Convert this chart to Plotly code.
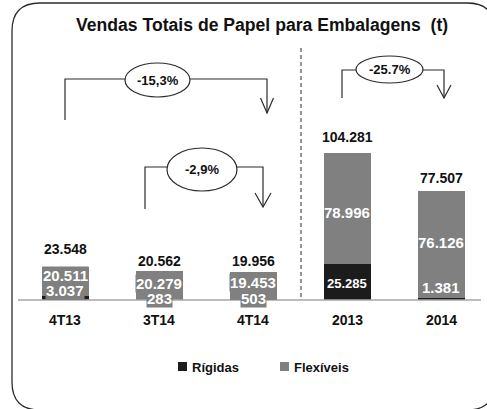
import plotly.graph_objects as go

# ---------------- data ----------------
categories = ['4T13', '3T14', '4T14', '2013', '2014']
rigidas = [3037, 283, 503, 25285, 1381]
flexiveis = [20511, 20279, 19453, 78996, 76126]
totais = [23548, 20562, 19956, 104281, 77507]
legend_names = ['Rígidas', 'Flexíveis']
variacoes = ['-15,3%', '-2,9%', '-25.7%']
title_text = 'Vendas Totais de Papel para Embalagens  (t)'

# ---------------- layout constants ----------------
W, H = 487, 409
BASE_PX = 300          # pixel row of the baseline
TOP_BAR_PX = 147       # pixel height of the tallest bar
FIRST_X, STEP = 65, 94 # pixel centre of first category, spacing

FONT = 'Liberation Sans, Arial, sans-serif'
C_RIG = '#1c1c1c'
C_FLEX = '#808080'
C_LINE = '#2b2b2b'

ppu = TOP_BAR_PX / max(totais)
y_range = [-(H - BASE_PX) / ppu, BASE_PX / ppu]
x_range = [-FIRST_X / STEP, (W - FIRST_X) / STEP]


def px(x):
    return x / W


def py(y):
    return 1 - y / H


fmt = lambda v: f'{v:,}'.replace(',', '.')

fig = go.Figure()
fig.add_trace(go.Bar(x=categories, y=rigidas, name=legend_names[0],
                     marker=dict(color=C_RIG, line=dict(width=0)), width=0.5))
fig.add_trace(go.Bar(x=categories, y=flexiveis, name=legend_names[1],
                     marker=dict(color=C_FLEX, line=dict(width=0)), width=0.5))

shapes = []
ann = []

# baseline
shapes.append(dict(type='line', xref='paper', yref='y', x0=px(18), x1=px(481),
                   y0=0, y1=0, line=dict(color='#a6a6a6', width=1.5)))
# dashed separator
shapes.append(dict(type='line', xref='paper', yref='paper', x0=px(301), x1=px(301),
                   y0=py(48), y1=py(300), line=dict(color=C_LINE, width=1, dash='4px,3px')))
# frame with rounded corners
x0f, x1f, y0f, y1f, r = 12, 495, 3, 410, 28


def P(x, y):
    return f'{px(x)},{py(y)}'


frame = (f'M {P(x0f, y0f + r)} Q {P(x0f, y0f)} {P(x0f + r, y0f)} '
         f'L {P(x1f - r, y0f)} Q {P(x1f, y0f)} {P(x1f, y0f + r)} '
         f'L {P(x1f, y1f - r)} Q {P(x1f, y1f)} {P(x1f - r, y1f)} '
         f'L {P(x0f + r, y1f)} Q {P(x0f, y1f)} {P(x0f, y1f - r)} Z')
shapes.append(dict(type='path', xref='paper', yref='paper', path=frame,
                   line=dict(color=C_LINE, width=1.3)))

# brackets: (left x, left bottom, line y, ellipse x0,x1,y0,y1, right x, tip y, arm dy, arm dx)
brackets = [
    (65, 120, 79, 125, 190, 63, 97, 267, 113, 15, 6.5),
    (145, 209, 167, 167, 237, 148, 191, 263, 207, 14, 8),
    (342, 98, 70, 356, 423, 56, 83, 444, 98, 13, 7),
]
for i, (lx, lb, ly, ex0, ex1, ey0, ey1, rx, tip, ady, adx) in enumerate(brackets):
    line = dict(color=C_LINE, width=1.2)
    shapes.append(dict(type='path', xref='paper', yref='paper',
                       path=f'M {P(lx, lb)} L {P(lx, ly)} L {P(ex0 + 1, ly)}', line=line))
    shapes.append(dict(type='path', xref='paper', yref='paper',
                       path=f'M {P(ex1 - 1, ly)} L {P(rx, ly)} L {P(rx, tip)}', line=line))
    shapes.append(dict(type='path', xref='paper', yref='paper',
                       path=f'M {P(rx - adx, tip - ady)} L {P(rx, tip)} L {P(rx + adx, tip - ady)}',
                       line=line))
    shapes.append(dict(type='circle', xref='paper', yref='paper',
                       x0=px(ex0), x1=px(ex1), y0=py(ey0), y1=py(ey1),
                       line=line, fillcolor='white'))
    ann.append(dict(x=px((ex0 + ex1) / 2), y=py((ey0 + ey1) / 2), xref='paper', yref='paper',
                    xanchor='center', yanchor='middle',
                    text=f'<b>{variacoes[i]}</b>', showarrow=False,
                    font=dict(family=FONT, size=13, color='#111')))

# title
ann.append(dict(x=px(262), y=py(25), xref='paper', yref='paper', text=f'<b>{title_text}</b>',
                xanchor='center', yanchor='middle',
                showarrow=False, font=dict(family=FONT, size=17.6, color='#111')))

# total labels above bars
total_gap_px = [18, 10, 11, 16, 13]
for i, (t, g) in enumerate(zip(totais, total_gap_px)):
    ann.append(dict(x=i, y=t, xref='x', yref='y', text=f'<b>{fmt(t)}</b>', showarrow=False,
                    xanchor='center', yanchor='middle',
                    yshift=g, font=dict(family=FONT, size=14, color='#111')))

# category labels
for i, c in enumerate(categories):
    ann.append(dict(x=i, y=0, xref='x', yref='y', text=f'<b>{c}</b>', showarrow=False,
                    xanchor='center', yanchor='middle',
                    yshift=-20, font=dict(family=FONT, size=14, color='#111')))

# values inside bars
rig_label_px = [10, 2, 2, 17, 13]
flex_label_px = [25, 17, 18, 88, 58]
rig_size = [15, 15, 15, 13, 15]
small = [True, True, True, False, False]
for i, c in enumerate(categories):
    a1 = dict(x=i, y=0, xref='x', yref='y', text=f'<b>{fmt(flexiveis[i])}</b>', showarrow=False,
              xanchor='center', yanchor='middle', yshift=flex_label_px[i], borderpad=0,
              font=dict(family=FONT, size=15, color='white'))
    a2 = dict(x=i, y=0, xref='x', yref='y', text=f'<b>{fmt(rigidas[i])}</b>', showarrow=False,
              xanchor='center', yanchor='middle', yshift=rig_label_px[i], borderpad=0,
              font=dict(family=FONT, size=rig_size[i], color='white'))
    if small[i]:
        a1['bgcolor'] = C_FLEX
        a2['bgcolor'] = C_FLEX
    ann.append(a2)
    ann.append(a1)

# legend (manual)
for (sx, col, name) in [(178, C_RIG, legend_names[0]), (280, C_FLEX, legend_names[1])]:
    shapes.append(dict(type='rect', xref='paper', yref='paper', x0=px(sx), x1=px(sx + 9),
                       y0=py(362), y1=py(371), fillcolor=col, line=dict(width=0)))
    ann.append(dict(x=px(sx + 12), y=py(367), xref='paper', yref='paper', xanchor='left',
                    yanchor='middle', text=f'<b>{name}</b>', showarrow=False,
                    font=dict(family=FONT, size=13, color='#111')))

fig.update_layout(
    width=W, height=H, margin=dict(l=0, r=0, t=0, b=0),
    paper_bgcolor='white', plot_bgcolor='white',
    barmode='stack', bargap=0, showlegend=False,
    xaxis=dict(type='category', range=x_range, visible=False, fixedrange=True),
    yaxis=dict(range=y_range, visible=False, fixedrange=True),
    shapes=shapes, annotations=ann,
    font=dict(family=FONT),
)

fig.write_html('out.html', config={'displayModeBar': False},
               post_script="document.body.style.margin='0';")
